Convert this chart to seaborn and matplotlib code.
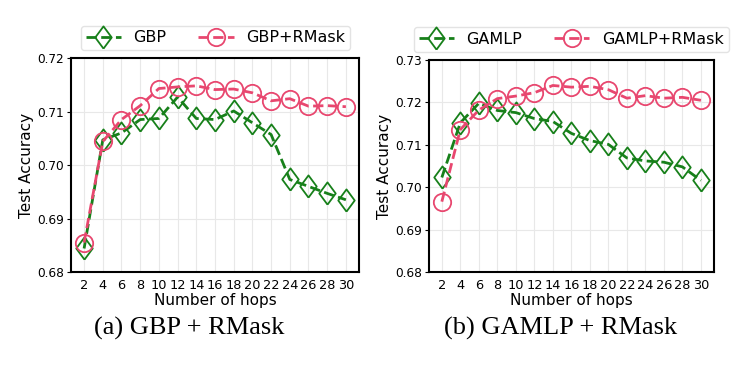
import numpy as np
import pandas as pd
import seaborn as sns
import matplotlib.pyplot as plt

# =========================================================
# DATA
# =========================================================

hops = [2, 4, 6, 8, 10, 12, 14, 16, 18, 20, 22, 24, 26, 28, 30]

gbp = [0.6844, 0.7047, 0.7060, 0.7085, 0.7087, 0.7127, 0.7087, 0.7085, 0.7101,
       0.7079, 0.7057, 0.6973, 0.6960, 0.6947, 0.6935]
gbp_rmask = [0.6855, 0.7044, 0.7085, 0.7111, 0.7143, 0.7146, 0.7148, 0.7141, 0.7142,
             0.7135, 0.7120, 0.7124, 0.7110, 0.7111, 0.7109]

gamlp = [0.7023, 0.7152, 0.7198, 0.7181, 0.7176, 0.7162, 0.7155, 0.7127, 0.7110,
         0.7101, 0.7069, 0.7062, 0.7059, 0.7048, 0.7016]
gamlp_rmask = [0.6966, 0.7136, 0.7182, 0.7209, 0.7215, 0.7223, 0.7240, 0.7236, 0.7238,
               0.7230, 0.7210, 0.7216, 0.7210, 0.7212, 0.7205]

panels = [
    ("GBP", gbp, gbp_rmask, [0.68, 0.69, 0.70, 0.71, 0.72], "(a) GBP + RMask"),
    ("GAMLP", gamlp, gamlp_rmask, [0.68, 0.69, 0.70, 0.71, 0.72, 0.73], "(b) GAMLP + RMask"),
]

GREEN = "#17801a"
PINK = "#e8476f"

# slightly wider than matplotlib's thin diamond
DIAMOND = [(0, -1), (0.74, 0), (0, 1), (-0.74, 0), (0, -1)]

# =========================================================
# FIGURE
# =========================================================

sns.set_theme(style="whitegrid")
plt.rcParams["font.family"] = ["DejaVu Sans"]

fig = plt.figure(figsize=(7.42, 3.71), dpi=100)

axes_pos = [
    [0.0957, 0.2668, 0.3881, 0.5768],
    [0.5780, 0.2668, 0.3841, 0.5714],
]
legend_pos = [(0.2904, 0.8976), (0.7700, 0.8935)]
caption_x = [0.255, 0.755]

for i, (name, base, rmask, yticks, caption) in enumerate(panels):

    ax = fig.add_axes(axes_pos[i])

    sns.lineplot(
        x=hops, y=base, ax=ax,
        color=GREEN, linestyle="--", linewidth=2,
        marker=DIAMOND, markersize=16,
        markerfacecolor="none", markeredgecolor=GREEN, markeredgewidth=1.3,
        label=name
    )

    sns.lineplot(
        x=hops, y=rmask, ax=ax,
        color=PINK, linestyle="--", linewidth=2,
        marker="o", markersize=12.5,
        markerfacecolor="none", markeredgecolor=PINK, markeredgewidth=1.3,
        label=name + "+RMask"
    )

    ax.set_ylim(yticks[0], yticks[-1])
    ax.set_yticks(yticks)
    ax.set_yticklabels([f"{t:.2f}" for t in yticks], fontsize=8.7)
    ax.set_xticks(hops)
    ax.set_xticklabels([str(h) for h in hops], fontsize=9.3)

    ax.tick_params(axis="both", length=3, width=0.8, color="black", pad=2,
                   left=True, bottom=False, labelcolor="black")

    ax.grid(True, color="#e8e8e8", linewidth=0.8)

    for spine in ax.spines.values():
        spine.set_color("black")
        spine.set_linewidth(1.5)

    ax.set_xlabel("Number of hops", fontsize=11, labelpad=1, color="black")
    ax.set_ylabel("Test Accuracy", fontsize=11, labelpad=2, color="black")

    leg = ax.legend(
        loc="center",
        bbox_to_anchor=legend_pos[i],
        bbox_transform=fig.transFigure,
        ncol=2,
        fontsize=11.5,
        frameon=True,
        handlelength=2.2,
        columnspacing=2.0,
        borderpad=0.3,
        fancybox=True,
        edgecolor="#dddddd"
    )
    for t in leg.get_texts():
        t.set_color("black")

    fig.text(caption_x[i], 0.115, caption, ha="center", va="center",
             fontsize=19, family="Liberation Serif", color="black")

fig.savefig("out.png", dpi=100)
